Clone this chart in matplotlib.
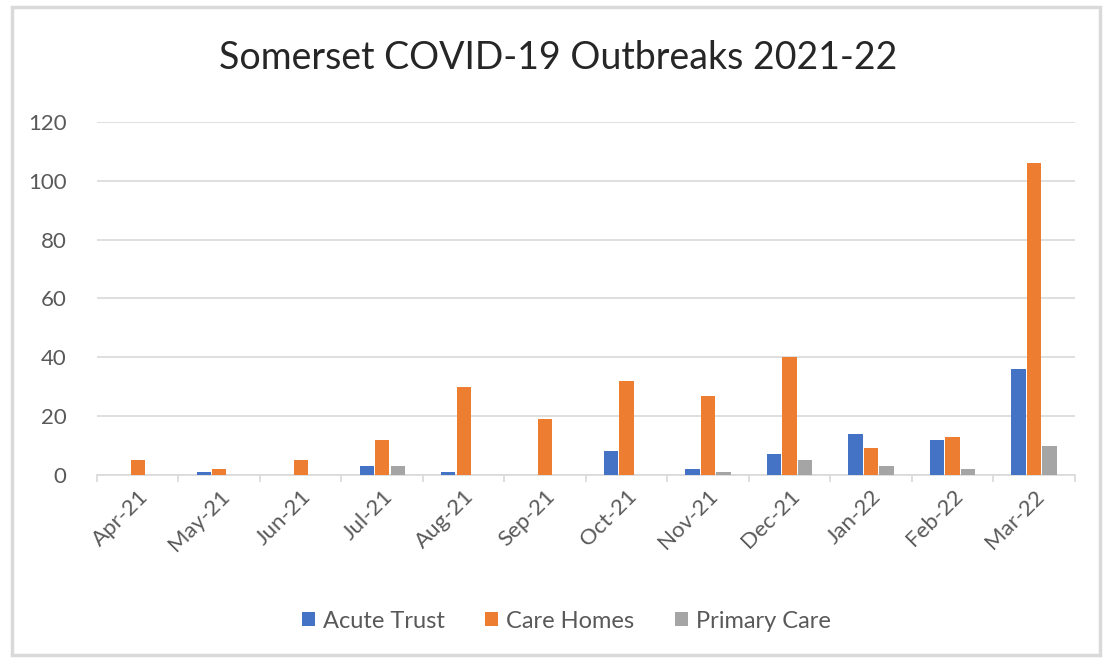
import matplotlib
matplotlib.use("Agg")
import matplotlib.pyplot as plt
from matplotlib.patches import Rectangle
import numpy as np

months = ["Apr-21", "May-21", "Jun-21", "Jul-21", "Aug-21", "Sep-21",
          "Oct-21", "Nov-21", "Dec-21", "Jan-22", "Feb-22", "Mar-22"]
acute_trust = [0, 1, 0, 3, 1, 0, 8, 2, 7, 14, 12, 36]
care_homes = [5, 2, 5, 12, 30, 19, 32, 27, 40, 9, 13, 106]
primary_care = [0, 0, 0, 3, 0, 0, 0, 1, 5, 3, 2, 10]
series_names = ["Acute Trust", "Care Homes", "Primary Care"]
colors = ["#4472C4", "#ED7D31", "#A5A5A5"]
yticks = [0, 20, 40, 60, 80, 100, 120]

plt.rcParams['font.family'] = ['Lato', 'DejaVu Sans']
text_color = "#595959"

fig = plt.figure(figsize=(11.06, 6.63), dpi=100)
fig.patch.set_facecolor("white")
fig.add_artist(Rectangle((0.011, 0.012), 0.984, 0.978, transform=fig.transFigure,
                         fill=False, edgecolor="#D9D9D9", linewidth=2.5))

ax = fig.add_axes([0.0877, 0.2836, 0.884, 0.5324])
x = np.arange(len(months))
w = 0.175
offs = [-0.19, 0.0, 0.19]
for vals, name, c, o in zip([acute_trust, care_homes, primary_care], series_names, colors, offs):
    ax.bar(x + o, vals, width=w, color=c, label=name, zorder=3)

ax.set_xlim(-0.5, len(months) - 0.5)
ax.set_ylim(0, 120)
ax.set_yticks(yticks)
ax.yaxis.grid(True, color="#D9D9D9", linewidth=1.2, zorder=0)
ax.tick_params(axis='y', length=0, labelsize=16, labelcolor=text_color, pad=22)
for s in ["top", "right", "left"]:
    ax.spines[s].set_visible(False)
ax.spines["bottom"].set_color("#D9D9D9")
ax.spines["bottom"].set_linewidth(1.2)

ax.set_xticks(x)
ax.set_xticklabels(months, rotation=45, ha='right', rotation_mode='anchor',
                   fontsize=16, color=text_color)
ax.tick_params(axis='x', length=0, pad=8)
ax.set_xticks(np.arange(-0.5, len(months), 1.0), minor=True)
ax.tick_params(axis='x', which='minor', length=5, color="#D9D9D9", width=1.2)

fig.suptitle("Somerset COVID-19 Outbreaks 2021-22", x=0.505, y=0.94,
             fontsize=27, color="#262626")

leg = fig.legend(loc='center', bbox_to_anchor=(0.512, 0.063), ncol=3, frameon=False,
                 fontsize=17, handlelength=0.55, handleheight=0.55, handletextpad=0.35,
                 columnspacing=1.7)
for t in leg.get_texts():
    t.set_color(text_color)

fig.savefig("out.png", dpi=100, facecolor="white")
